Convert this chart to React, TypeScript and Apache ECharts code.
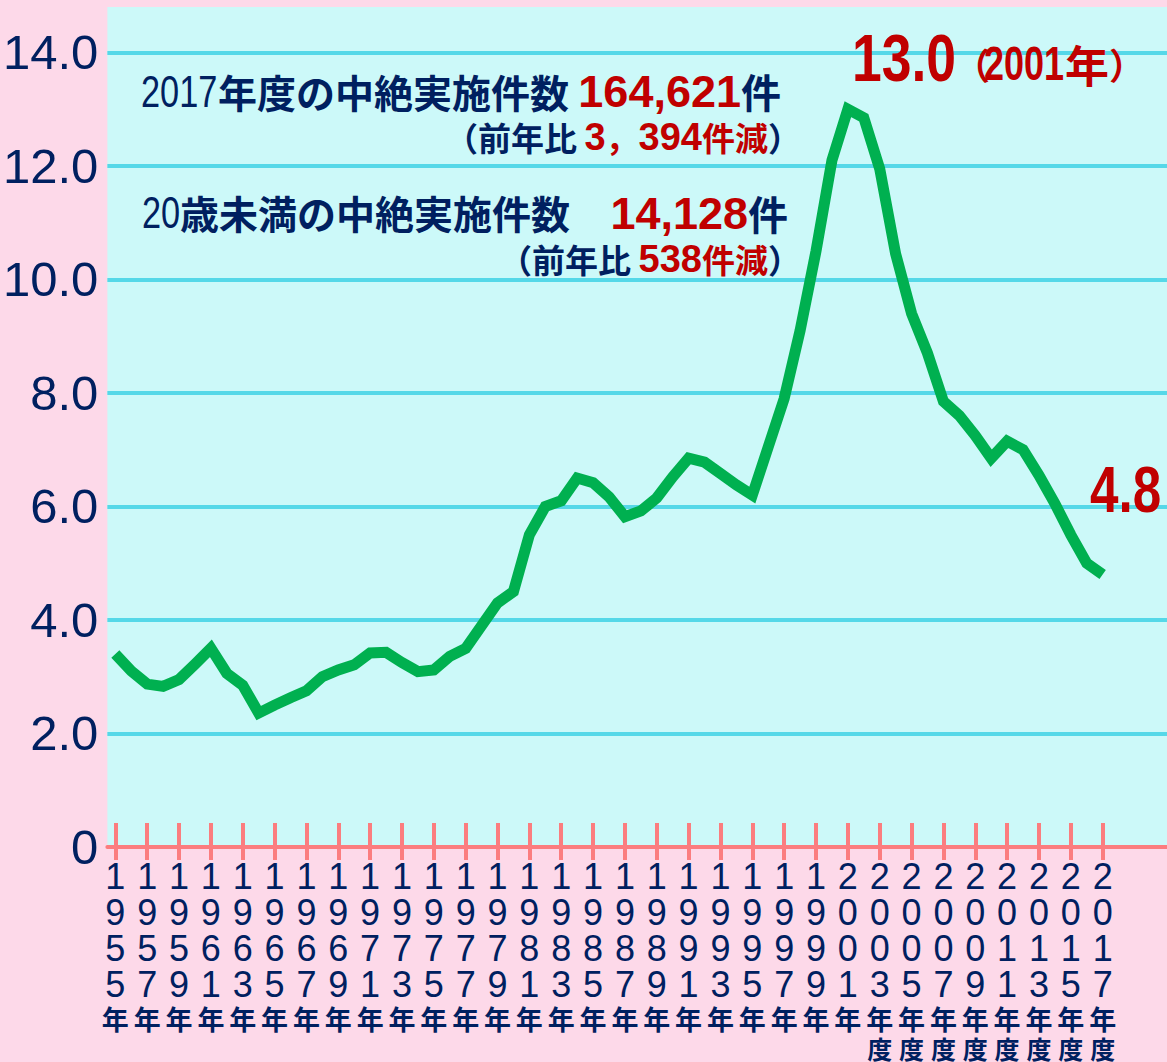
import React, { useEffect, useRef } from 'react';
import * as echarts from 'echarts';

const years = [
  1955, 1956, 1957, 1958, 1959, 1960, 1961, 1962, 1963, 1964,
  1965, 1966, 1967, 1968, 1969, 1970, 1971, 1972, 1973, 1974,
  1975, 1976, 1977, 1978, 1979, 1980, 1981, 1982, 1983, 1984,
  1985, 1986, 1987, 1988, 1989, 1990, 1991, 1992, 1993, 1994,
  1995, 1996, 1997, 1998, 1999, 2000, 2001, 2002, 2003, 2004,
  2005, 2006, 2007, 2008, 2009, 2010, 2011, 2012, 2013, 2014,
  2015, 2016, 2017,
];

const rates = [
  3.4, 3.1, 2.87, 2.83, 2.95, 3.22, 3.5, 3.06, 2.85, 2.36,
  2.5, 2.63, 2.75, 3.0, 3.12, 3.21, 3.42, 3.43, 3.25, 3.09,
  3.12, 3.36, 3.5, 3.9, 4.3, 4.5, 5.5, 6.0, 6.1, 6.5,
  6.42, 6.17, 5.82, 5.92, 6.15, 6.52, 6.85, 6.78, 6.58, 6.38,
  6.2, 7.05, 7.9, 9.1, 10.5, 12.1, 13.0, 12.85, 11.95, 10.45,
  9.4, 8.7, 7.85, 7.6, 7.25, 6.85, 7.15, 7.0, 6.55, 6.05,
  5.5, 5.0, 4.8,
];

const tickYears = [
  1955, 1957, 1959, 1961, 1963, 1965, 1967, 1969, 1971, 1973, 1975,
  1977, 1979, 1981, 1983, 1985, 1987, 1989, 1991, 1993, 1995, 1997,
  1999, 2001, 2003, 2005, 2007, 2009, 2011, 2013, 2015, 2017,
];

const fiscalTickYears = [2003, 2005, 2007, 2009, 2011, 2013, 2015, 2017];

const PINK = '#fdd9e9';
const CYAN = '#ccf9f9';
const GRIDC = '#55d8e8';
const SALMON = '#fb7d7f';
const GREEN = '#00b050';
const NAVY = '#002060';
const RED = '#c00000';

const ARIAL = "'Liberation Sans', Arial, sans-serif";
const CJK = "'Noto Sans CJK JP', 'Noto Sans CJK SC', sans-serif";

export default function App() {
  const ref = useRef<HTMLDivElement>(null);

  useEffect(() => {
    if (!ref.current) return;
    const chart = echarts.init(ref.current, null, { renderer: 'svg' });

    const tickStyle = { color: SALMON, width: 4 };

    const cjk = (size: number, fill: string) => ({
      fontFamily: CJK,
      fontSize: size,
      fontWeight: 'bold',
      fill,
      verticalAlign: 'middle',
    });
    const latin = (size: number, fill: string, weight = 'bold') => ({
      fontFamily: ARIAL,
      fontSize: size,
      fontWeight: weight,
      fill,
      verticalAlign: 'middle',
    });

    const option: any = {
      animation: false,
      backgroundColor: PINK,
      grid: {
        left: 106,
        top: 7,
        right: 0,
        bottom: 215,
        show: true,
        backgroundColor: CYAN,
        borderWidth: 0,
        containLabel: false,
      },
      xAxis: [
        {
          type: 'value',
          min: 1954.5,
          max: 2021.04,
          position: 'bottom',
          axisLine: { show: true, onZero: false, lineStyle: { color: SALMON, width: 4 } },
          axisTick: {
            show: true,
            inside: false,
            length: 13,
            customValues: tickYears,
            lineStyle: tickStyle,
          },
          axisLabel: {
            show: true,
            customValues: tickYears,
            margin: 11,
            formatter: (v: number) => {
              const y = Math.round(v);
              const digits = String(y)
                .split('')
                .map((c) => `{d|${c}}`)
                .join('\n');
              return digits + '\n{k|年}' + (fiscalTickYears.includes(y) ? '\n{f|度}' : '');
            },
            rich: {
              d: { fontFamily: ARIAL, fontSize: 36, lineHeight: 36, color: NAVY },
              k: { fontFamily: CJK, fontSize: 27, fontWeight: 'bold', lineHeight: 33, color: NAVY },
              f: { fontFamily: CJK, fontSize: 25, fontWeight: 'bold', lineHeight: 25, color: NAVY },
            },
          },
          splitLine: { show: false },
        },
        {
          type: 'value',
          min: 1954.5,
          max: 2021.04,
          position: 'bottom',
          axisLine: { show: false, onZero: false },
          axisTick: {
            show: true,
            inside: true,
            length: 24,
            customValues: tickYears,
            lineStyle: tickStyle,
          },
          axisLabel: { show: false },
          splitLine: { show: false },
        },
      ],
      yAxis: {
        type: 'value',
        min: 0,
        max: 14.8,
        interval: 2,
        axisLine: { show: false },
        axisTick: { show: false },
        axisLabel: {
          margin: 9,
          showMaxLabel: false,
          color: NAVY,
          fontSize: 49,
          fontFamily: ARIAL,
          formatter: (v: number) => (v === 0 ? '0' : v.toFixed(1)),
        },
        splitLine: {
          show: true,
          showMinLine: false,
          showMaxLine: false,
          lineStyle: { color: GRIDC, width: 4 },
        },
      },
      series: [
        {
          type: 'line',
          xAxisIndex: 0,
          data: years.map((y, i) => [y, rates[i]]),
          showSymbol: false,
          symbol: 'none',
          silent: true,
          z: 3,
          lineStyle: { color: GREEN, width: 11, join: 'miter', miterLimit: 10 },
        },
      ],
      graphic: [
        // line 1
        {
          type: 'text', x: 141, y: 91, scaleX: 0.78, z: 10,
          style: { text: '2017', ...latin(44, NAVY, 'normal'), align: 'left', verticalAlign: 'middle' },
        },
        {
          type: 'text', x: 218, y: 91, z: 10,
          style: { text: '年度の中絶実施件数', ...cjk(39, NAVY), align: 'left', verticalAlign: 'middle' },
        },
        {
          type: 'text', x: 781, y: 91, z: 10,
          style: {
            text: '{r|164,621}{c|件}',
            align: 'right',
            verticalAlign: 'middle',
            rich: { r: latin(45, RED), c: cjk(40, NAVY) },
          },
        },
        // line 2
        {
          type: 'text', x: 801, y: 137, z: 10,
          style: {
            text: '{c|（前年比 }{r|3}{rc|，}{r|394}{rc|件減}{c|）}',
            align: 'right',
            verticalAlign: 'middle',
            rich: { c: cjk(33, NAVY), r: latin(38, RED), rc: cjk(33, RED) },
          },
        },
        // line 3
        {
          type: 'text', x: 142, y: 212, scaleX: 0.78, z: 10,
          style: { text: '20', ...latin(44, NAVY, 'normal'), align: 'left', verticalAlign: 'middle' },
        },
        {
          type: 'text', x: 180, y: 212, z: 10,
          style: { text: '歳未満の中絶実施件数', ...cjk(39, NAVY), align: 'left', verticalAlign: 'middle' },
        },
        {
          type: 'text', x: 788, y: 213, z: 10,
          style: {
            text: '{r|14,128}{c|件}',
            align: 'right',
            verticalAlign: 'middle',
            rich: { r: latin(45, RED), c: cjk(40, NAVY) },
          },
        },
        // line 4
        {
          type: 'text', x: 801, y: 259, z: 10,
          style: {
            text: '{c|（前年比 }{r|538}{rc|件減}{c|）}',
            align: 'right',
            verticalAlign: 'middle',
            rich: { c: cjk(33, NAVY), r: latin(38, RED), rc: cjk(33, RED) },
          },
        },
        // peak annotation
        {
          type: 'text', x: 852, y: 58, scaleX: 0.81, z: 10,
          style: { text: '13.0', ...latin(66, RED), align: 'left', verticalAlign: 'middle' },
        },
        {
          type: 'text', x: 990, y: 64, z: 10,
          style: { text: '（', ...cjk(36, RED), align: 'right', verticalAlign: 'middle' },
        },
        {
          type: 'text', x: 984, y: 64, scaleX: 0.75, z: 10,
          style: { text: '2001', ...latin(48, RED), align: 'left', verticalAlign: 'middle' },
        },
        {
          type: 'text', x: 1065, y: 64, z: 10,
          style: {
            text: '{k|年}{p|）}',
            align: 'left',
            verticalAlign: 'middle',
            rich: { k: cjk(44, RED), p: cjk(36, RED) },
          },
        },
        // last value
        {
          type: 'text', x: 1090, y: 490, scaleX: 0.8, z: 10,
          style: { text: '4.8', ...latin(64, RED), align: 'left', verticalAlign: 'middle' },
        },
      ],
    };

    chart.setOption(option);
    return () => chart.dispose();
  }, []);

  return (
    <div
      ref={ref}
      style={{ position: 'fixed', left: 0, top: 0, width: 1167, height: 1062 }}
    />
  );
}
